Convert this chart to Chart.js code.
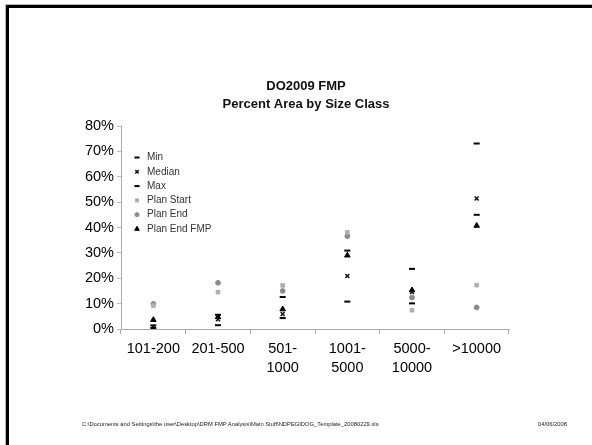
<!DOCTYPE html>
<html>
<head>
<meta charset="utf-8">
<script src="https://cdn.jsdelivr.net/npm/chart.js@4/dist/chart.umd.min.js"></script>
<style>
  html, body { margin: 0; padding: 0; background: #fff; }
  body { width: 592px; height: 445px; position: relative; overflow: hidden; font-family: "Liberation Sans", Arial, sans-serif; }
  #frame { position: absolute; left: 6px; top: 5px; width: 620px; height: 520px; border: 3px solid #000; box-shadow: 0 0 0 1px #bbb; }
  #wrap { position: absolute; left: 0; top: 0; width: 592px; height: 445px; }
  .foot { position: absolute; top: 421px; font-size: 5.8px; color: #222; white-space: nowrap; }
</style>
</head>
<body>
<div id="frame"></div>
<div id="wrap"><canvas id="c" width="592" height="445"></canvas></div>
<div class="foot" style="left:82px;">C:\Documents and Settings\the user\Desktop\DRM FMP Analysis\Main Stuff\NDPEGIDOG_Template_20080229.xls</div>
<div class="foot" style="left:538px;">04/06/2008</div>
<script>
// Size classes (acres) and percent of area in each class
const categories = ['101-200', '201-500', ['501-', '1000'], ['1001-', '5000'], ['5000-', '10000'], '>10000'];
const minValues       = [0.4, 1.5, 4.3, 10.8, 10.1, 45.0];
const medianValues    = [0.9, 3.8, 5.9, 20.9, 14.6, 51.4];
const maxValues       = [1.4, 5.6, 12.6, 30.9, 23.7, 73.1];
const planStartValues = [9.2, 14.5, 17.2, 38.1, 7.4, 17.3];
const planEndValues   = [9.9, 18.2, 15.0, 36.6, 12.4, 8.5];
const planEndFmpValues = [3.6, 4.7, 7.8, 29.0, 15.3, 40.7];
const yTicks = [0, 10, 20, 30, 40, 50, 60, 70, 80];
const titleLines = ['DO2009 FMP', 'Percent Area by Size Class'];

const FONT = '"Liberation Sans", Arial, sans-serif';

function series(label, data, style, color, radius, bw) {
  return {
    label, data, showLine: false,
    pointStyle: style, pointRadius: radius, pointHoverRadius: radius,
    pointBackgroundColor: color, pointBorderColor: color, pointBorderWidth: bw,
    backgroundColor: color, borderColor: color
  };
}

// Heading drawn above the plot
const heading = {
  id: 'heading',
  afterDraw(chart) {
    const ctx = chart.ctx;
    ctx.save();
    ctx.fillStyle = '#111';
    ctx.font = 'bold 13px ' + FONT;
    ctx.textAlign = 'center';
    ctx.textBaseline = 'middle';
    titleLines.forEach((t, i) => ctx.fillText(t, 306, 86 + i * 18));
    ctx.restore();
  }
};

// Key placed inside the plot, top-left
const innerKey = {
  id: 'innerKey',
  afterDraw(chart) {
    const ctx = chart.ctx;
    const area = chart.chartArea;
    ctx.save();
    ctx.font = '10px ' + FONT;
    ctx.textBaseline = 'middle';
    ctx.textAlign = 'left';
    chart.data.datasets.forEach((ds, i) => {
      const y = area.top + 31.5 + i * 14.3;
      const x = area.left + 16;
      ctx.fillStyle = ds.pointBackgroundColor;
      ctx.strokeStyle = ds.pointBorderColor;
      ctx.lineWidth = ds.pointBorderWidth;
      Chart.helpers.drawPoint(ctx, { pointStyle: ds.pointStyle, radius: ds.pointRadius * 0.85, rotation: 0, borderWidth: ds.pointBorderWidth }, x, y);
      ctx.fillStyle = '#333';
      ctx.fillText(ds.label, x + 10, y);
    });
    ctx.restore();
  }
};

new Chart(document.getElementById('c'), {
  type: 'line',
  data: {
    labels: categories,
    datasets: [
      series('Min', minValues, 'line', '#000', 3, 2),
      series('Median', medianValues, 'crossRot', '#111', 2.8, 1.5),
      series('Max', maxValues, 'line', '#000', 3, 2),
      series('Plan Start', planStartValues, 'rect', '#b0b0b0', 2.6, 1),
      series('Plan End', planEndValues, 'circle', '#8a8a8a', 2.4, 1),
      series('Plan End FMP', planEndFmpValues, 'triangle', '#000', 3.2, 1)
    ]
  },
  options: {
    responsive: false,
    animation: false,
    events: [],
    layout: { padding: { top: 126, left: 0, right: 83, bottom: 0 } },
    plugins: { legend: { display: false }, title: { display: false }, tooltip: { enabled: false } },
    scales: {
      x: {
        type: 'category',
        offset: true,
        grid: { offset: true, drawOnChartArea: false, drawTicks: true, tickLength: 5, color: '#aaa' },
        border: { color: '#aaa', width: 1 },
        ticks: { color: '#000', font: { family: FONT, size: 14.5, lineHeight: 1.3 }, padding: 6, maxRotation: 0, autoSkip: false },
        afterFit(scale) { scale.height = 116; }
      },
      y: {
        min: 0, max: 80,
        afterBuildTicks(scale) { scale.ticks = yTicks.map(v => ({ value: v })); },
        grid: { drawOnChartArea: false, drawTicks: true, tickLength: 4, color: '#bbb' },
        border: { color: '#aaa', width: 1 },
        ticks: { color: '#000', font: { family: FONT, size: 14.5 }, padding: 3, callback: v => v + '%' },
        afterFit(scale) { scale.width = 121; }
      }
    }
  },
  plugins: [heading, innerKey]
});
</script>
</body>
</html>
